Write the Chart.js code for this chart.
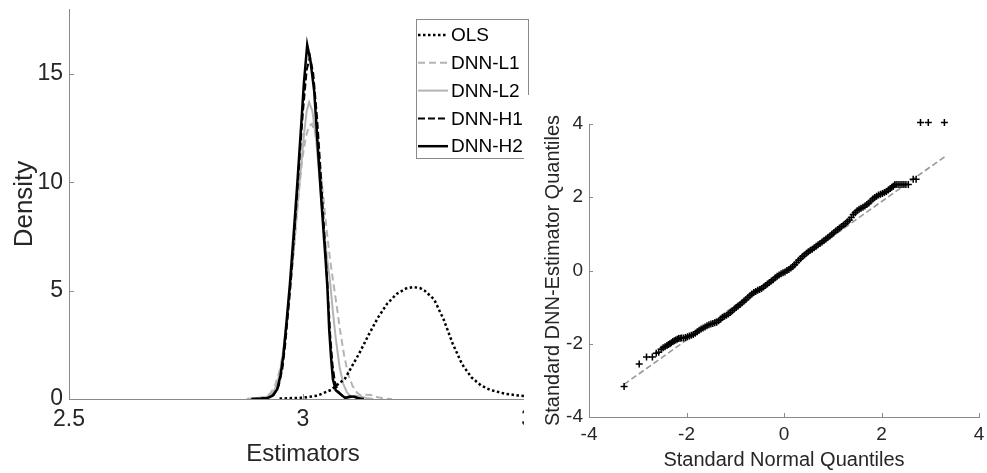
<!DOCTYPE html>
<html>
<head>
<meta charset="utf-8">
<script src="https://cdn.jsdelivr.net/npm/chart.js@4.4.1/dist/chart.umd.min.js"></script>
<style>
  body { margin: 0; background: #fff; }
  #wrap { position: relative; width: 987px; height: 473px; overflow: hidden; }
  #densityBox { position: absolute; left: 0; top: 0; }
  #qqBox { position: absolute; left: 524px; top: 95px; background: #fff; }
</style>
</head>
<body>
<div id="wrap">
  <div id="densityBox"><canvas id="densityChart" width="560" height="473"></canvas></div>
  <div id="qqBox"><canvas id="qqChart" width="463" height="378"></canvas></div>
</div>
<script>
// Kernel density of the estimators (left panel)
const olsX = [2.95, 3.00, 3.03, 3.06, 3.09, 3.12, 3.14, 3.16, 3.18, 3.20, 3.22, 3.235, 3.25, 3.26, 3.28, 3.30, 3.32, 3.34, 3.36, 3.38, 3.40, 3.43, 3.46, 3.50];
const olsY = [0.02, 0.06, 0.15, 0.42, 0.95, 2.10, 2.95, 3.75, 4.40, 4.85, 5.10, 5.17, 5.12, 5.00, 4.60, 3.70, 2.55, 1.60, 1.00, 0.63, 0.42, 0.25, 0.16, 0.08];

const l1X = [2.88, 2.90, 2.915, 2.93, 2.94, 2.95, 2.958, 2.966, 2.974, 2.982, 2.990, 2.998, 3.006, 3.013, 3.019, 3.026, 3.034, 3.042, 3.050, 3.058, 3.064, 3.072, 3.079, 3.088, 3.097, 3.106, 3.115, 3.125, 3.135, 3.145, 3.16, 3.175, 3.19];
const l1Y = [0, 0.04, 0.08, 0.25, 0.6, 1.3, 2.2, 3.5, 5.2, 7.2, 9.3, 11.0, 12.1, 12.6, 12.7, 12.3, 11.2, 9.6, 7.9, 6.4, 5.5, 4.3, 3.2, 2.0, 1.1, 0.6, 0.3, 0.15, 0.2, 0.18, 0.08, 0.02, 0];

const l2X = [2.88, 2.90, 2.92, 2.935, 2.945, 2.953, 2.96, 2.968, 2.976, 2.985, 2.994, 3.002, 3.008, 3.013, 3.020, 3.028, 3.036, 3.044, 3.052, 3.058, 3.064, 3.070, 3.078, 3.086, 3.094, 3.102, 3.112, 3.122, 3.135, 3.15];
const l2Y = [0, 0.03, 0.08, 0.25, 0.7, 1.5, 2.6, 4.2, 6.0, 8.2, 10.3, 12.2, 13.3, 13.7, 13.3, 12.0, 10.0, 8.0, 6.4, 5.4, 4.0, 2.8, 1.5, 0.7, 0.3, 0.12, 0.15, 0.12, 0.05, 0];

const h1X = [2.89, 2.91, 2.925, 2.938, 2.948, 2.956, 2.962, 2.969, 2.976, 2.984, 2.992, 3.000, 3.008, 3.015, 3.022, 3.030, 3.038, 3.046, 3.053, 3.058, 3.063, 3.068, 3.075, 3.085, 3.095, 3.105, 3.115, 3.125];
const h1Y = [0, 0.02, 0.06, 0.2, 0.6, 1.4, 2.5, 4.2, 6.0, 8.4, 10.9, 13.3, 15.2, 15.8, 15.0, 13.0, 10.4, 7.5, 5.0, 3.0, 1.6, 0.8, 0.35, 0.12, 0.06, 0.1, 0.06, 0];

const h2X = [2.89, 2.91, 2.925, 2.935, 2.945, 2.952, 2.958, 2.965, 2.972, 2.980, 2.988, 2.996, 3.002, 3.009, 3.016, 3.024, 3.032, 3.040, 3.048, 3.052, 3.056, 3.060, 3.064, 3.070, 3.077, 3.090, 3.100, 3.110, 3.120, 3.13];
const h2Y = [0, 0.02, 0.05, 0.15, 0.45, 1.1, 2.0, 3.6, 5.3, 7.6, 10.0, 12.6, 14.6, 16.35, 15.6, 14.2, 11.5, 8.9, 6.5, 5.2, 3.2, 1.9, 0.9, 0.4, 0.28, 0.05, 0.12, 0.10, 0.02, 0];

const densityTicksX = [2.5, 3, 3.5];
const densityTicksY = [0, 5, 10, 15];

// Q-Q plot of the standardised DNN estimator (right panel)
const qqNormal = [-3.28, -2.97, -2.82, -2.70, -2.62, -2.57, -2.52, -2.48, -2.44, -2.40, -2.37, -2.34, -2.31, -2.28, -2.25, -2.22, -2.19, -2.16, -2.13, -2.10,
  -2.06, -2.02, -1.98, -1.94, -1.90, -1.86, -1.82, -1.78, -1.74, -1.70, -1.66, -1.62, -1.58, -1.54, -1.50, -1.46, -1.42, -1.38, -1.34, -1.30,
  -1.26, -1.22, -1.18, -1.14, -1.10, -1.06, -1.02, -0.98, -0.94, -0.90, -0.86, -0.82, -0.78, -0.74, -0.70, -0.66, -0.62, -0.58, -0.54, -0.50,
  -0.46, -0.42, -0.38, -0.34, -0.30, -0.26, -0.22, -0.18, -0.14, -0.10, -0.06, -0.02, 0.02, 0.06, 0.10, 0.14, 0.18, 0.22, 0.26, 0.30,
  0.34, 0.38, 0.42, 0.46, 0.50, 0.54, 0.58, 0.62, 0.66, 0.70, 0.74, 0.78, 0.82, 0.86, 0.90, 0.94, 0.98, 1.02, 1.06, 1.10,
  1.14, 1.18, 1.22, 1.26, 1.30, 1.34, 1.38, 1.42, 1.46, 1.50, 1.54, 1.58, 1.62, 1.66, 1.70, 1.74, 1.78, 1.82, 1.86, 1.90,
  1.94, 1.98, 2.02, 2.06, 2.10, 2.14, 2.18, 2.21, 2.24, 2.27, 2.30, 2.34, 2.38, 2.42, 2.46, 2.50, 2.55, 2.65, 2.71, 2.80, 2.96, 3.29];
const qqSample = [-3.17, -2.55, -2.36, -2.36, -2.26, -2.23, -2.15, -2.11, -2.08, -2.05, -2.02, -2.00, -1.97, -1.94, -1.92, -1.90, -1.88, -1.86, -1.85, -1.84,
  -1.84, -1.83, -1.81, -1.79, -1.77, -1.75, -1.71, -1.67, -1.63, -1.60, -1.57, -1.54, -1.51, -1.48, -1.46, -1.45, -1.43, -1.41, -1.37, -1.33,
  -1.28, -1.25, -1.22, -1.19, -1.15, -1.10, -1.05, -1.01, -0.97, -0.93, -0.88, -0.83, -0.79, -0.74, -0.69, -0.64, -0.60, -0.57, -0.54, -0.52,
  -0.49, -0.45, -0.41, -0.37, -0.33, -0.29, -0.25, -0.20, -0.16, -0.12, -0.09, -0.06, -0.04, 0.00, 0.03, 0.07, 0.11, 0.16, 0.22, 0.28,
  0.33, 0.38, 0.42, 0.47, 0.51, 0.55, 0.58, 0.62, 0.66, 0.70, 0.74, 0.78, 0.82, 0.86, 0.90, 0.94, 0.99, 1.03, 1.08, 1.12,
  1.16, 1.20, 1.24, 1.28, 1.33, 1.38, 1.45, 1.53, 1.58, 1.63, 1.67, 1.70, 1.73, 1.76, 1.80, 1.84, 1.90, 1.95, 1.99, 2.03,
  2.06, 2.08, 2.10, 2.13, 2.16, 2.20, 2.24, 2.27, 2.30, 2.34, 2.35, 2.35, 2.35, 2.35, 2.35, 2.35, 2.35, 2.49, 2.49, 4.04, 4.04, 4.04];
const refLineX = [-3.28, 3.30];
const refLineY = [-3.11, 3.11];
const qqTicks = [-4, -2, 0, 2, 4];

const FONT = '"Liberation Sans", Arial, Helvetica, sans-serif';
const TEXT = '#262626';
const AXIS = '#8a8a8a';
const GREY = '#b4b4b4';

const zip = (xs, ys) => xs.map((x, i) => ({ x: x, y: ys[i] }));

// MATLAB-style ticks that point into the plot area
const innerTicks = {
  id: 'innerTicks',
  afterDraw(chart, args, opts) {
    const { ctx, chartArea, scales } = chart;
    const len = opts.length || 5;
    ctx.save();
    ctx.strokeStyle = AXIS;
    ctx.lineWidth = 1;
    ctx.beginPath();
    scales.x.ticks.forEach(t => {
      const px = Math.round(scales.x.getPixelForValue(t.value)) + 0.5;
      ctx.moveTo(px, chartArea.bottom);
      ctx.lineTo(px, chartArea.bottom - len);
    });
    scales.y.ticks.forEach(t => {
      const py = Math.round(scales.y.getPixelForValue(t.value)) + 0.5;
      ctx.moveTo(chartArea.left, py);
      ctx.lineTo(chartArea.left + len, py);
    });
    ctx.stroke();
    ctx.restore();
  }
};

// boxed legend in the upper right of the density panel
const boxLegend = {
  id: 'boxLegend',
  afterDraw(chart, args, opts) {
    const { ctx } = chart;
    const { left, top, width, height, rowH, sample } = opts;
    ctx.save();
    ctx.fillStyle = '#fff';
    ctx.fillRect(left, top, width, height);
    ctx.strokeStyle = AXIS;
    ctx.lineWidth = 1;
    ctx.strokeRect(left + 0.5, top + 0.5, width, height);
    ctx.font = '19px ' + FONT;
    ctx.textBaseline = 'middle';
    chart.data.datasets.forEach((ds, i) => {
      const y = top + 16 + i * rowH;
      ctx.strokeStyle = ds.borderColor;
      ctx.lineWidth = ds.borderWidth;
      ctx.setLineDash(ds.borderDash || []);
      ctx.beginPath();
      ctx.moveTo(left + 2, y);
      ctx.lineTo(left + 2 + sample, y);
      ctx.stroke();
      ctx.setLineDash([]);
      ctx.fillStyle = '#000';
      ctx.fillText(ds.label, left + sample + 5, y + 1);
    });
    ctx.restore();
  }
};

function fixedTicks(values) {
  return function (scale) {
    scale.ticks = values.map(v => ({ value: v }));
  };
}

// keep the plot box where it is: no extra room for overhanging end labels
function fixedSize(prop, size) {
  return function (scale) {
    scale[prop] = size;
    scale.paddingTop = 0;
    scale.paddingBottom = 0;
    scale.paddingLeft = 0;
    scale.paddingRight = 0;
  };
}

new Chart(document.getElementById('densityChart'), {
  type: 'scatter',
  data: {
    datasets: [
      { label: 'OLS', data: zip(olsX, olsY), borderColor: '#000', borderWidth: 2.5, borderDash: [2.5, 2.5], order: 2 },
      { label: 'DNN-L1', data: zip(l1X, l1Y), borderColor: GREY, borderWidth: 2, borderDash: [7, 4], order: 4 },
      { label: 'DNN-L2', data: zip(l2X, l2Y), borderColor: GREY, borderWidth: 2, order: 3 },
      { label: 'DNN-H1', data: zip(h1X, h1Y), borderColor: '#000', borderWidth: 2, borderDash: [7, 3], order: 1 },
      { label: 'DNN-H2', data: zip(h2X, h2Y), borderColor: '#000', borderWidth: 2.5, order: 0 }
    ].map(d => Object.assign(d, { showLine: true, pointRadius: 0, tension: 0, fill: false }))
  },
  options: {
    responsive: false,
    animation: false,
    devicePixelRatio: 1,
    layout: { padding: { top: 9, right: 23, left: 0, bottom: 0 } },
    plugins: {
      legend: { display: false },
      tooltip: { enabled: false },
      innerTicks: { length: 5 },
      boxLegend: { left: 416, top: 19, width: 112, height: 139, rowH: 27.8, sample: 30 }
    },
    scales: {
      x: {
        type: 'linear', min: 2.5, max: 3.5,
        afterBuildTicks: fixedTicks(densityTicksX),
        afterFit: fixedSize('height', 74),
        grid: { display: false, drawTicks: false },
        border: { display: true, color: AXIS, width: 1 },
        ticks: { color: TEXT, font: { family: FONT, size: 23 }, padding: 7, maxRotation: 0, callback: v => String(v) },
        title: { display: true, text: 'Estimators', color: TEXT, font: { family: FONT, size: 24 }, padding: { top: 0, bottom: 4 } }
      },
      y: {
        type: 'linear', min: 0, max: 18,
        afterBuildTicks: fixedTicks(densityTicksY),
        afterFit: fixedSize('width', 69),
        grid: { display: false, drawTicks: false },
        border: { display: true, color: AXIS, width: 1 },
        ticks: { color: TEXT, font: { family: FONT, size: 23 }, padding: 6 },
        title: { display: true, text: 'Density', color: TEXT, font: { family: FONT, size: 26 }, padding: { top: 9, bottom: 0 } }
      }
    }
  },
  plugins: [innerTicks, boxLegend]
});

new Chart(document.getElementById('qqChart'), {
  type: 'scatter',
  data: {
    datasets: [
      { label: 'DNN estimator', data: zip(qqNormal, qqSample), pointStyle: 'cross', pointRadius: 3.5, borderColor: '#000', backgroundColor: '#000', borderWidth: 1.5, clip: false, order: 0 },
      { label: 'reference', data: zip(refLineX, refLineY), showLine: true, pointRadius: 0, borderColor: '#999', borderWidth: 1.6, borderDash: [6, 3], order: 1 }
    ]
  },
  options: {
    responsive: false,
    animation: false,
    devicePixelRatio: 1,
    layout: { padding: { top: 29, right: 8, left: 0, bottom: 0 } },
    plugins: {
      legend: { display: false },
      tooltip: { enabled: false },
      innerTicks: { length: 4 }
    },
    scales: {
      x: {
        type: 'linear', min: -4, max: 4,
        afterBuildTicks: fixedTicks(qqTicks),
        afterFit: fixedSize('height', 56),
        grid: { display: false, drawTicks: false },
        border: { display: true, color: AXIS, width: 1 },
        ticks: { color: TEXT, font: { family: FONT, size: 19 }, padding: 6, maxRotation: 0 },
        title: { display: true, text: 'Standard Normal Quantiles', color: TEXT, font: { family: FONT, size: 20 }, padding: { top: 0, bottom: 1 } }
      },
      y: {
        type: 'linear', min: -4, max: 4,
        afterBuildTicks: fixedTicks(qqTicks),
        afterFit: fixedSize('width', 65),
        grid: { display: false, drawTicks: false },
        border: { display: true, color: AXIS, width: 1 },
        ticks: { color: TEXT, font: { family: FONT, size: 19 }, padding: 6 },
        title: { display: true, text: 'Standard DNN-Estimator Quantiles', color: TEXT, font: { family: FONT, size: 20 }, padding: { top: 17, bottom: 0 } }
      }
    }
  },
  plugins: [innerTicks]
});
</script>
</body>
</html>
